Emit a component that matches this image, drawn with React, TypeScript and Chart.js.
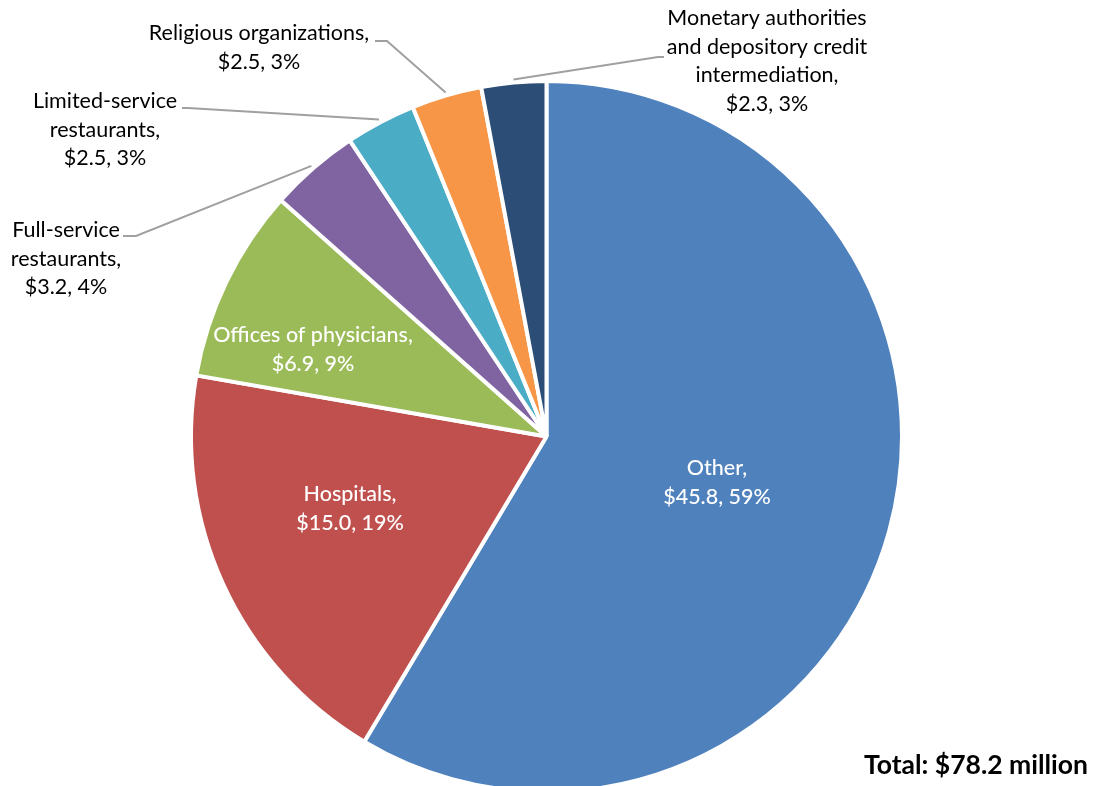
import React, { useEffect, useRef } from "react";
import { Chart, registerables } from "chart.js";

Chart.register(...registerables);

const categories = [
  "Other",
  "Hospitals",
  "Offices of physicians",
  "Full-service restaurants",
  "Limited-service restaurants",
  "Religious organizations",
  "Monetary authorities and depository credit intermediation",
];
const values = [45.8, 15.0, 6.9, 3.2, 2.5, 2.5, 2.3];
const colors = ["#4F81BD", "#C0504D", "#9BBB59", "#8064A2", "#4BACC6", "#F79646", "#2C4D75"];

// label layout: line breaks, centre position of text block, text colour, leader line
const labelLines = [
  ["Other,"],
  ["Hospitals,"],
  ["Offices of physicians,"],
  ["Full-service", "restaurants,"],
  ["Limited-service", "restaurants,"],
  ["Religious organizations,"],
  ["Monetary authorities", "and depository credit", "intermediation,"],
];
const labelPos = [
  { x: 717, y: 468, inside: true },
  { x: 350, y: 494, inside: true },
  { x: 313, y: 335, inside: true },
  { x: 66, y: 230, inside: false, lx: 123, ly: 236, hx: 136 },
  { x: 105, y: 101, inside: false, lx: 182, ly: 108, hx: 188 },
  { x: 259, y: 33, inside: false, lx: 375, ly: 41, hx: 387 },
  { x: 767, y: 18, inside: false, lx: 664, ly: 57, hx: 658 },
];

const FONT = "Lato, 'Open Sans', sans-serif";

const labelPlugin = {
  id: "pieLabels",
  afterDraw(chart: any) {
    const ctx = chart.ctx as CanvasRenderingContext2D;
    const meta = chart.getDatasetMeta(0);
    const total = values.reduce((a, b) => a + b, 0);
    ctx.save();
    ctx.textAlign = "center";
    ctx.textBaseline = "middle";
    const lineH = 28.7;
    meta.data.forEach((arc: any, i: number) => {
      const v = values[i];
      const pct = Math.round((v / total) * 100);
      const lines = [...labelLines[i], `$${v.toFixed(1)}, ${pct}%`];
      const p = labelPos[i];
      if (!p.inside) {
        const mid = (arc.startAngle + arc.endAngle) / 2;
        const r = arc.outerRadius + 3;
        const ex = arc.x + Math.cos(mid) * r;
        const ey = arc.y + Math.sin(mid) * r;
        ctx.strokeStyle = "#A0A0A0";
        ctx.lineWidth = 2;
        ctx.beginPath();
        ctx.moveTo(p.lx!, p.ly!);
        ctx.lineTo(p.hx!, p.ly!);
        ctx.lineTo(ex, ey);
        ctx.stroke();
      }
      ctx.font = p.inside ? `500 21.5px ${FONT}` : `21.5px ${FONT}`;
      ctx.fillStyle = p.inside ? "#FFFFFF" : "#000000";
      lines.forEach((t, k) => ctx.fillText(t, p.x, p.y + k * lineH));
    });
    ctx.font = `bold 26.5px ${FONT}`;
    ctx.textAlign = "right";
    ctx.fillStyle = "#000000";
    ctx.fillText(`Total: $${total.toFixed(1)} million`, 1088, 765);
    ctx.restore();
  },
};

export default function App() {
  const ref = useRef<HTMLCanvasElement>(null);
  useEffect(() => {
    if (!ref.current) return;
    const chart = new Chart(ref.current, {
      type: "pie",
      data: {
        labels: categories,
        datasets: [
          {
            data: values,
            backgroundColor: colors,
            borderColor: "#FFFFFF",
            borderWidth: 4,
          },
        ],
      },
      options: {
        responsive: false,
        animation: false,
        layout: { padding: { left: 189, right: 192, top: 79, bottom: 6 } },
        plugins: { legend: { display: false }, tooltip: { enabled: false } },
      },
      plugins: [labelPlugin],
    });
    return () => chart.destroy();
  }, []);
  return (
    <div style={{ position: "fixed", left: 0, top: 0, width: 1096, height: 786, overflow: "hidden", background: "#fff" }}>
      <canvas ref={ref} width={1096} height={800} style={{ display: "block" }} />
    </div>
  );
}
